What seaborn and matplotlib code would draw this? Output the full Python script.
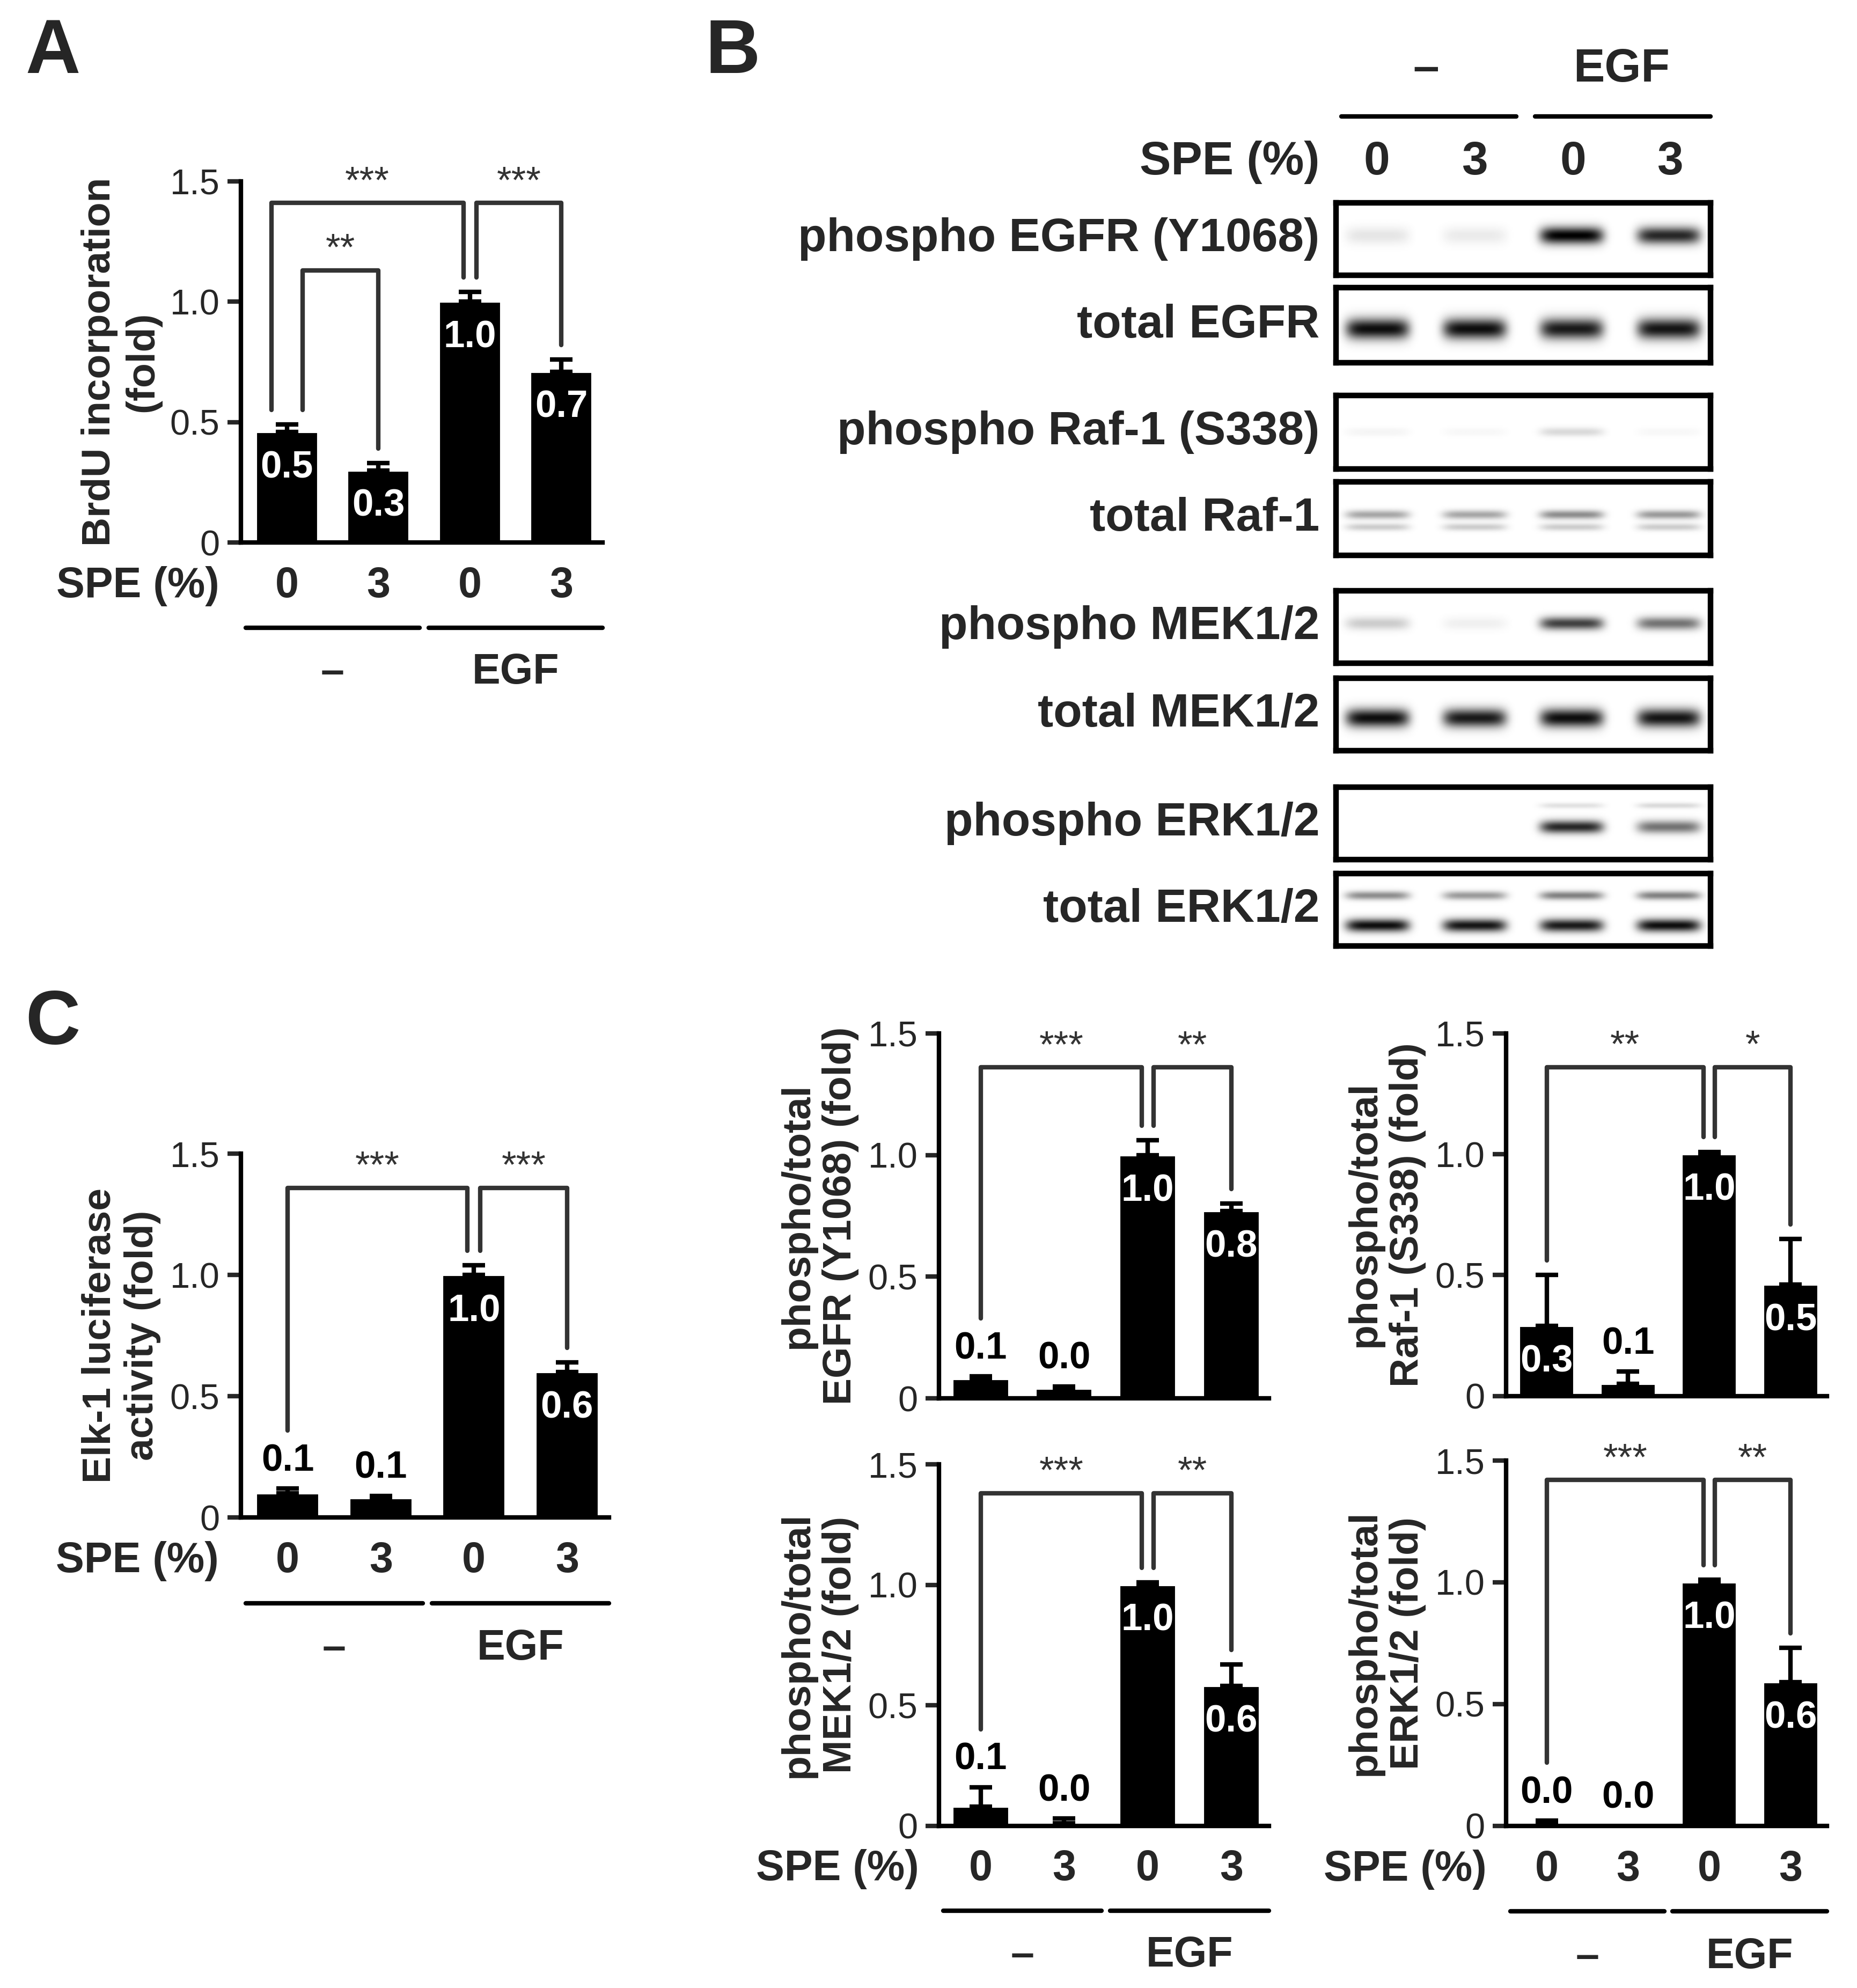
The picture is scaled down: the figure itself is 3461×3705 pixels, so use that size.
import numpy as np
import pandas as pd
import matplotlib
matplotlib.use("Agg")
import matplotlib.pyplot as plt
import seaborn as sns

sns.set_theme(style="white")
plt.rcParams['font.family'] = ['Liberation Sans', 'DejaVu Sans']

W, H = 1464, 1568
fig = plt.figure(figsize=(3462/300, 3705/300), dpi=300)

def rect(x0, y0, x1, y1):
    return [x0/W, 1-y1/H, (x1-x0)/W, (y1-y0)/H]

spe = ["0", "3", "0", "3"]
groups = ["\u2013", "EGF"]

a_mean = [0.46, 0.30, 1.00, 0.71]; a_err = [0.03, 0.03, 0.04, 0.05]; a_lab = ["0.5", "0.3", "1.0", "0.7"]
c_mean = [0.10, 0.08, 1.00, 0.60]; c_err = [0.02, 0.01, 0.04, 0.04]; c_lab = ["0.1", "0.1", "1.0", "0.6"]
egfr_mean = [0.08, 0.04, 1.00, 0.77]; egfr_err = [0.01, 0.01, 0.06, 0.03]; egfr_lab = ["0.1", "0.0", "1.0", "0.8"]
raf_mean = [0.29, 0.05, 1.00, 0.46]; raf_err = [0.21, 0.05, 0.01, 0.19]; raf_lab = ["0.3", "0.1", "1.0", "0.5"]
mek_mean = [0.08, 0.01, 1.00, 0.58]; mek_err = [0.08, 0.02, 0.01, 0.09]; mek_lab = ["0.1", "0.0", "1.0", "0.6"]
erk_mean = [0.01, 0.00, 1.00, 0.59]; erk_err = [0.01, 0.00, 0.01, 0.14]; erk_lab = ["0.0", "0.0", "1.0", "0.6"]

# brackets: (i, j, height, stars, offset_i, offset_j)
a_br = [(0, 2, 1.41, "***", -0.17, -0.07), (2, 3, 1.41, "***", 0.07, 0), (0, 1, 1.13, "**", 0.17, 0)]
c_br = [(0, 2, 1.36, "***", 0, -0.07), (2, 3, 1.36, "***", 0.07, 0)]
egfr_br = [(0, 2, 1.36, "***", 0, -0.07), (2, 3, 1.36, "**", 0.07, 0)]
raf_br = [(0, 2, 1.36, "**", 0, -0.07), (2, 3, 1.36, "*", 0.07, 0)]
mek_br = [(0, 2, 1.38, "***", 0, -0.07), (2, 3, 1.38, "**", 0.07, 0)]
erk_br = [(0, 2, 1.42, "***", 0, -0.07), (2, 3, 1.42, "**", 0.07, 0)]

def barpanel(r, mean, err, labs, brs, ylabel, xlabels=True):
    ax = fig.add_axes(r)
    df = pd.DataFrame({"x": [0, 1, 2, 3], "y": mean})
    sns.barplot(data=df, x="x", y="y", color="black", width=0.68, ax=ax, saturation=1)
    for i, (m, e) in enumerate(zip(mean, err)):
        if e > 0:
            ax.errorbar(i, m, yerr=[[0], [e]], color="black", capsize=5, capthick=2, elinewidth=2)
    for i, (m, e, l) in enumerate(zip(mean, err, labs)):
        if m >= 0.25:
            ax.text(i, m - 0.15, l, ha="center", va="center", color="white", fontsize=17, fontweight="bold")
        else:
            ax.text(i, m + e + 0.04, l, ha="center", va="bottom", color="black", fontsize=17, fontweight="bold")
    for (i, j, h, s, oi, oj) in brs:
        def bot(k):
            m = mean[k] + err[k]
            return m + (0.06 if mean[k] >= 0.25 else 0.24)
        xi, xj = i + oi, j + oj
        ax.plot([xi, xi, xj, xj], [bot(i), h, h, bot(j)], color="#333333", lw=2, clip_on=False)
        ax.text((xi + xj) / 2, h + 0.01, s, ha="center", va="bottom", fontsize=17, color="#333333")
    ax.set_xlim(-0.5, 3.45)
    ax.set_ylim(0, 1.5)
    ax.set_yticks([0, 0.5, 1.0, 1.5])
    ax.set_yticklabels(["0", "0.5", "1.0", "1.5"], fontsize=16)
    ax.set_xticks([])
    ax.set_xlabel("")
    ax.set_ylabel(ylabel, fontsize=18, fontweight="bold", linespacing=1.2)
    ax.tick_params(axis="y", direction="out", length=6, width=2, left=True)
    sns.despine(ax=ax)
    for sp in ["left", "bottom"]:
        ax.spines[sp].set_linewidth(2)
        ax.spines[sp].set_color("black")
    if xlabels:
        tr = ax.get_xaxis_transform()
        ax.text(-0.06, -0.12, "SPE (%)", transform=ax.transAxes, ha="right", va="center", fontsize=19, fontweight="bold")
        for i, s in enumerate(spe):
            ax.text(i, -0.12, s, transform=tr, ha="center", va="center", fontsize=19, fontweight="bold")
        for g, (a, b) in enumerate([(0, 1), (2, 3)]):
            ax.plot([a - 0.45, b + 0.45], [-0.235, -0.235], transform=tr, color="black", lw=2, clip_on=False)
            ax.text((a + b) / 2, -0.36, groups[g], transform=tr, ha="center", va="center", fontsize=19, fontweight="bold")
    return ax

barpanel(rect(190, 143, 475, 428), a_mean, a_err, a_lab, a_br, "BrdU incorporation\n(fold)")
barpanel(rect(190, 910, 480, 1197), c_mean, c_err, c_lab, c_br, "Elk-1 luciferase\nactivity (fold)")
barpanel(rect(740, 815, 1000, 1103), egfr_mean, egfr_err, egfr_lab, egfr_br, "phospho/total\nEGFR (Y1068) (fold)", False)
barpanel(rect(1187, 815, 1440, 1101), raf_mean, raf_err, raf_lab, raf_br, "phospho/total\nRaf-1 (S338) (fold)", False)
barpanel(rect(740, 1155, 1000, 1440), mek_mean, mek_err, mek_lab, mek_br, "phospho/total\nMEK1/2 (fold)")
barpanel(rect(1187, 1152, 1440, 1440), erk_mean, erk_err, erk_lab, erk_br, "phospho/total\nERK1/2 (fold)")

# Western blots
blot_names = ["phospho EGFR (Y1068)", "total EGFR", "phospho Raf-1 (S338)", "total Raf-1",
              "phospho MEK1/2", "total MEK1/2", "phospho ERK1/2", "total ERK1/2"]
blot_rows = [(160, 217), (227, 286), (312, 370), (380, 438), (466, 523), (535, 592), (621, 678), (689, 746)]
# per blot: list of bands (y position fraction, thickness, intensities per lane)
blot_bands = [
    [(0.45, 0.12, [0.10, 0.08, 1.00, 0.85])],
    [(0.55, 0.14, [0.95, 0.95, 0.90, 0.92])],
    [(0.50, 0.06, [0.04, 0.03, 0.15, 0.03])],
    [(0.45, 0.06, [0.35, 0.35, 0.45, 0.40]), (0.62, 0.05, [0.20, 0.20, 0.20, 0.20])],
    [(0.45, 0.09, [0.20, 0.06, 0.75, 0.55])],
    [(0.55, 0.13, [0.95, 0.90, 0.95, 0.92])],
    [(0.25, 0.04, [0.00, 0.00, 0.12, 0.15]), (0.55, 0.09, [0.00, 0.00, 0.85, 0.55])],
    [(0.30, 0.06, [0.45, 0.40, 0.50, 0.50]), (0.72, 0.09, [0.95, 0.92, 0.90, 0.95])],
]
lane_x = np.array([0.11, 0.37, 0.63, 0.89])
for name, (y0, y1), bands in zip(blot_names, blot_rows, blot_bands):
    ax = fig.add_axes(rect(1053, y0, 1348, y1))
    xs = np.linspace(0, 1, 300)[None, :]
    ys = np.linspace(0, 1, 60)[:, None]
    img = np.zeros((60, 300))
    for (yp, th, ints) in bands:
        for lx, v in zip(lane_x, ints):
            img += v * np.exp(-((xs - lx) / 0.085) ** 6) * np.exp(-((ys - yp) / th) ** 2)
    ax.imshow(np.clip(img, 0, 1), cmap="gray_r", vmin=0, vmax=1, aspect="auto", extent=[0, 1, 1, 0])
    ax.set_xticks([]); ax.set_yticks([])
    for sp in ax.spines.values():
        sp.set_linewidth(2.5); sp.set_color("black"); sp.set_visible(True)
    fig.text(1040/W, 1-(y0+y1)/2/H, name, ha="right", va="center", fontsize=21, fontweight="bold")

lane_px = [1085, 1162, 1240, 1316]
fig.text(1040/W, 1-128/H, "SPE (%)", ha="right", va="center", fontsize=21, fontweight="bold")
for px, s in zip(lane_px, spe):
    fig.text(px/W, 1-128/H, s, ha="center", va="center", fontsize=21, fontweight="bold")
lax = fig.add_axes([0, 0, 1, 1]); lax.set_axis_off(); lax.set_xlim(0, W); lax.set_ylim(H, 0)
lax.plot([1057, 1195], [92, 92], color="black", lw=2)
lax.plot([1210, 1348], [92, 92], color="black", lw=2)
lax.text(1124, 55, groups[0], ha="center", va="center", fontsize=21, fontweight="bold")
lax.text(1278, 55, groups[1], ha="center", va="center", fontsize=21, fontweight="bold")

for letter, (x, y) in zip("ABC", [(20, 42), (556, 42), (20, 808)]):
    fig.text(x/W, 1-y/H, letter, ha="left", va="center", fontsize=34, fontweight="bold")

fig.savefig("out.png", dpi=300)
